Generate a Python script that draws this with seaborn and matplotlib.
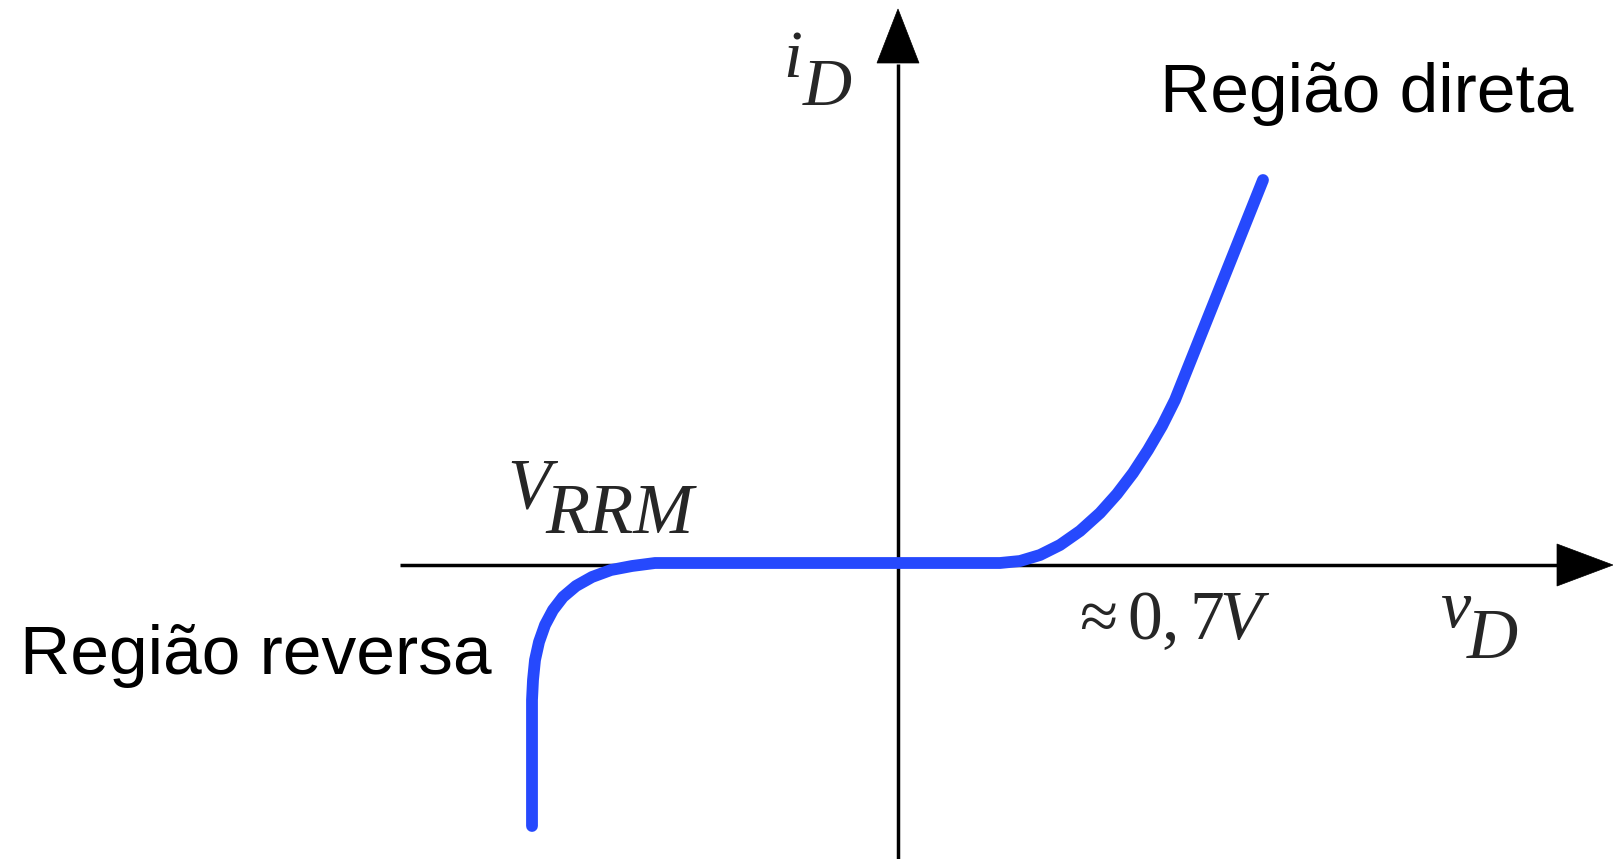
import matplotlib
matplotlib.use("Agg")
import matplotlib.pyplot as plt
from matplotlib.patches import Polygon
import seaborn as sns
import pandas as pd

# ---- data (1 unit = 100 px, origin at axes crossing) ----
v_curve = [-3.66, -3.66, -3.65, -3.63, -3.59, -3.53, -3.45, -3.35, -3.22, -3.06, -2.87, -2.66, -2.43,
           1.02, 1.22, 1.42, 1.62, 1.82, 2.02, 2.19, 2.35, 2.50, 2.64, 2.77, 3.65]
i_curve = [-2.62, -1.36, -1.16, -0.96, -0.78, -0.61, -0.46, -0.33, -0.22, -0.13, -0.06, -0.02, 0.01,
           0.01, 0.03, 0.09, 0.19, 0.33, 0.51, 0.70, 0.91, 1.14, 1.38, 1.64, 3.84]

label_forward = "Região direta"
label_reverse = "Região reversa"
label_knee = r"$\approx 0,7V$"

sns.set_theme(style="white")
plt.rcParams["mathtext.fontset"] = "custom"
plt.rcParams["mathtext.rm"] = "Liberation Serif"
plt.rcParams["mathtext.it"] = "Liberation Serif:italic"

W, H, DPI = 1613, 859, 100
fig = plt.figure(figsize=(W / DPI, H / DPI), dpi=DPI)
ax = fig.add_axes([0, 0, 1, 1])

# axes with arrow heads
axis_lw = 2.5
ax.plot([-4.98, 6.62], [-0.01, -0.01], color="black", lw=axis_lw, solid_capstyle="butt")
ax.plot([0, 0], [-2.95, 5.0], color="black", lw=axis_lw, solid_capstyle="butt")
ax.add_patch(Polygon([[6.59, 0.20], [7.15, -0.01], [6.59, -0.22]], closed=True,
                     facecolor="black", edgecolor="black", lw=0.5))
ax.add_patch(Polygon([[-0.21, 5.01], [0.0, 5.55], [0.21, 5.01]], closed=True,
                     facecolor="black", edgecolor="black", lw=0.5))

df = pd.DataFrame({"v": v_curve, "i": i_curve})
n_before = len(ax.lines)
sns.lineplot(data=df, x="v", y="i", sort=False, estimator=None, color="#2649FD",
             linewidth=8.5, ax=ax, legend=False)
for ln in ax.lines[n_before:]:
    ln.set_linewidth(8.5)
    ln.set_solid_capstyle("round")
    ln.set_solid_joinstyle("round")

ax.set_xlim(-8.98, 7.15)
ax.set_ylim(-2.95, 5.64)
ax.axis("off")

sans = ["Liberation Sans", "DejaVu Sans"]
serif = ["Liberation Serif", "DejaVu Serif"]
fs_sans = 50
fs_serif = 49

ax.text(-8.785, -1.10, label_reverse, family=sans, fontsize=fs_sans, color="black",
        ha="left", va="baseline")
ax.text(2.615, 4.52, label_forward, family=sans, fontsize=fs_sans, color="black",
        ha="left", va="baseline")

# i_D
ax.text(-1.15, 4.87, "i", family=serif, style="italic", fontsize=fs_serif,
        ha="left", va="baseline")
ax.text(-0.95, 4.59, "D", family=serif, style="italic", fontsize=fs_serif,
        ha="left", va="baseline")
# v_D
ax.text(5.42, -0.63, "v", family=serif, style="italic", fontsize=fs_serif,
        ha="left", va="baseline")
ax.text(5.69, -0.94, "D", family=serif, style="italic", fontsize=fs_serif + 2,
        ha="left", va="baseline")
# V_RRM
ax.text(-3.91, 0.56, "V", family=serif, style="italic", fontsize=fs_serif + 2,
        ha="left", va="baseline")
ax.text(-3.53, 0.31, "RRM", family=serif, style="italic", fontsize=fs_serif + 3,
        ha="left", va="baseline")
# knee voltage
ax.text(1.71, -0.75, label_knee, fontsize=fs_serif + 1, ha="left", va="baseline")

fig.savefig("out.png", dpi=DPI, facecolor="white")
